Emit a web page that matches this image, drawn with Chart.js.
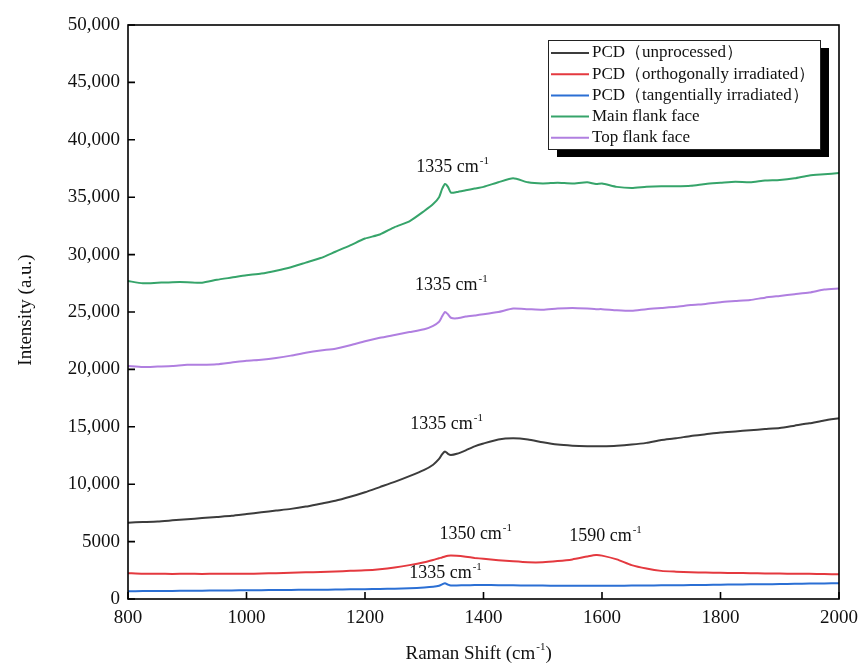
<!DOCTYPE html>
<html>
<head>
<meta charset="utf-8">
<script src="https://cdn.jsdelivr.net/npm/chart.js@4.4.0/dist/chart.umd.min.js"></script>
<style>
  html, body { margin: 0; padding: 0; background: #fff; }
  #wrap { width: 860px; height: 663px; }
</style>
</head>
<body>
<div id="wrap"><canvas id="raman"></canvas></div>
<script>
// Raman shift grid (cm-1)
const shift = [800, 825, 850, 875, 900, 925, 950, 975, 1000, 1025, 1050, 1075, 1100, 1125, 1150, 1175,
  1200, 1225, 1250, 1275, 1300, 1315, 1325, 1330, 1335, 1340, 1345, 1355, 1370, 1385, 1400, 1425,
  1450, 1475, 1500, 1525, 1550, 1575, 1590, 1600, 1625, 1650, 1675, 1700, 1725, 1750, 1775, 1800,
  1825, 1850, 1875, 1900, 1925, 1950, 1975, 2000];

const unprocessed = [6650, 6700, 6750, 6850, 6950, 7050, 7150, 7250, 7400, 7550, 7700, 7850, 8050, 8300, 8550, 8900,
  9300, 9750, 10200, 10700, 11250, 11700, 12200, 12600, 12850, 12650, 12550, 12650, 12950, 13300, 13550, 13900,
  14000, 13900, 13650, 13450, 13350, 13300, 13300, 13300, 13350, 13450, 13600, 13850, 14000, 14200, 14350, 14500,
  14600, 14700, 14800, 14900, 15100, 15300, 15550, 15750];

const orthogonal = [2250, 2200, 2200, 2180, 2200, 2180, 2200, 2200, 2200, 2220, 2250, 2280, 2320, 2360, 2400, 2450,
  2500, 2600, 2750, 2950, 3200, 3400, 3550, 3620, 3700, 3760, 3780, 3760, 3680, 3580, 3500, 3380,
  3280, 3200, 3200, 3300, 3450, 3700, 3830, 3780, 3450, 2950, 2650, 2450, 2380, 2330, 2300, 2280,
  2260, 2250, 2230, 2220, 2200, 2190, 2180, 2150];

const tangential = [680, 690, 700, 700, 720, 720, 740, 750, 760, 770, 780, 790, 800, 810, 820, 840,
  860, 880, 900, 940, 1000, 1060, 1150, 1280, 1380, 1250, 1170, 1180, 1200, 1210, 1220, 1200,
  1190, 1180, 1170, 1160, 1150, 1150, 1150, 1150, 1160, 1170, 1180, 1190, 1200, 1210, 1230, 1250,
  1260, 1280, 1290, 1300, 1320, 1340, 1360, 1370];

const mainFlank = [27700, 27500, 27550, 27600, 27600, 27550, 27800, 28000, 28200, 28350, 28600, 28900, 29300, 29700, 30250, 30800,
  31400, 31750, 32400, 32900, 33800, 34400, 35000, 35700, 36150, 35900, 35400, 35450, 35600, 35750, 35900, 36300,
  36650, 36300, 36200, 36250, 36200, 36300, 36150, 36200, 35900, 35800, 35900, 35950, 35950, 36000, 36150, 36250,
  36350, 36300, 36450, 36500, 36650, 36900, 37000, 37100];

const topFlank = [20300, 20200, 20250, 20300, 20400, 20400, 20450, 20600, 20750, 20850, 21000, 21200, 21450, 21650, 21800, 22100,
  22450, 22750, 23000, 23250, 23500, 23800, 24150, 24600, 25000, 24800, 24500, 24450, 24600, 24700, 24800, 25000,
  25300, 25250, 25200, 25300, 25350, 25300, 25250, 25250, 25150, 25100, 25250, 25350, 25450, 25600, 25700, 25850,
  25950, 26050, 26250, 26400, 26550, 26700, 26950, 27050];

const seriesNames = ['PCD（unprocessed）', 'PCD（orthogonally irradiated）', 'PCD（tangentially irradiated）',
  'Main flank face', 'Top flank face'];
const seriesColors = ['#3c3c3c', '#e4393f', '#2b6fd4', '#36a46a', '#b07fe0'];
const seriesValues = [unprocessed, orthogonal, tangential, mainFlank, topFlank];

// peak labels: [text, shift, intensity at label baseline]
const peakLabels = [
  ['1335 cm', 1347, 37200],
  ['1335 cm', 1345, 26900],
  ['1335 cm', 1337, 14800],
  ['1350 cm', 1386, 5230],
  ['1590 cm', 1605, 5050],
  ['1335 cm', 1335, 1830]
];

const xTicks = [800, 1000, 1200, 1400, 1600, 1800, 2000];
const yTicks = [0, 5000, 10000, 15000, 20000, 25000, 30000, 35000, 40000, 45000, 50000];

const SERIF = '"Liberation Serif", "Times New Roman", serif';

function drawWithSup(ctx, base, sup, cx, baseline, size) {
  ctx.font = size + 'px ' + SERIF;
  const wb = ctx.measureText(base).width;
  ctx.font = Math.round(size * 0.6) + 'px ' + SERIF;
  const ws = ctx.measureText(sup).width;
  const left = cx - (wb + ws) / 2;
  ctx.textAlign = 'left';
  ctx.textBaseline = 'alphabetic';
  ctx.font = size + 'px ' + SERIF;
  ctx.fillText(base, left, baseline);
  ctx.font = Math.round(size * 0.6) + 'px ' + SERIF;
  ctx.fillText(sup, left + wb + 1, baseline - size * 0.45);
  return left + wb + ws;
}

const decorPlugin = {
  id: 'decor',
  afterDatasetsDraw(chart) {
    const { ctx, chartArea: a, scales: { x, y } } = chart;
    ctx.save();
    // frame
    ctx.strokeStyle = '#000';
    ctx.lineWidth = 1.6;
    ctx.strokeRect(a.left, a.top, a.right - a.left, a.bottom - a.top);
    // inward ticks
    ctx.beginPath();
    xTicks.forEach(v => {
      const px = x.getPixelForValue(v);
      ctx.moveTo(px, a.bottom);
      ctx.lineTo(px, a.bottom - 7);
    });
    yTicks.forEach(v => {
      const py = y.getPixelForValue(v);
      ctx.moveTo(a.left, py);
      ctx.lineTo(a.left + 7, py);
    });
    ctx.stroke();

    // peak labels
    ctx.fillStyle = '#111';
    peakLabels.forEach(([t, sx, sy]) => {
      drawWithSup(ctx, t, '-1', x.getPixelForValue(sx), y.getPixelForValue(sy), 18);
    });

    // legend with drop shadow
    const lx = 548, ly = 40, lw = 272, lh = 109;
    ctx.fillStyle = '#000';
    ctx.fillRect(lx + 9, ly + 8, lw, lh);
    ctx.fillStyle = '#fff';
    ctx.fillRect(lx, ly, lw, lh);
    ctx.lineWidth = 1;
    ctx.strokeStyle = '#222';
    ctx.strokeRect(lx + 0.5, ly + 0.5, lw, lh);
    ctx.font = '17px ' + SERIF;
    ctx.textBaseline = 'middle';
    ctx.textAlign = 'left';
    seriesNames.forEach((name, i) => {
      const iy = ly + 13 + i * 21.2;
      ctx.strokeStyle = seriesColors[i];
      ctx.lineWidth = 2;
      ctx.beginPath();
      ctx.moveTo(lx + 3, iy);
      ctx.lineTo(lx + 41, iy);
      ctx.stroke();
      ctx.fillStyle = '#111';
      ctx.fillText(name, lx + 44, iy);
    });

    // axis titles
    ctx.fillStyle = '#111';
    drawWithSup(ctx, 'Raman Shift (cm', '-1', 475, 659, 19);
    ctx.font = '19px ' + SERIF;
    const w1 = ctx.measureText('Raman Shift (cm').width;
    ctx.font = '11px ' + SERIF;
    const w2 = ctx.measureText('-1').width;
    ctx.font = '19px ' + SERIF;
    ctx.textAlign = 'left';
    ctx.textBaseline = 'alphabetic';
    ctx.fillText(')', 475 - (w1 + w2) / 2 + w1 + w2 + 1, 659);

    ctx.translate(31, 310);
    ctx.rotate(-Math.PI / 2);
    ctx.textAlign = 'center';
    ctx.fillText('Intensity (a.u.)', 0, 0);
    ctx.restore();
  }
};

new Chart(document.getElementById('raman'), {
  type: 'line',
  data: {
    datasets: seriesNames.map((name, i) => ({
      label: name,
      data: shift.map((s, j) => ({ x: s, y: seriesValues[i][j] })),
      borderColor: seriesColors[i],
      borderWidth: 2,
      pointRadius: 0,
      tension: 0.2,
      fill: false
    }))
  },
  options: {
    responsive: true,
    maintainAspectRatio: false,
    animation: false,
    layout: { padding: { top: 25, right: 21, left: 0, bottom: 0 } },
    plugins: { legend: { display: false }, tooltip: { enabled: false } },
    scales: {
      x: {
        type: 'linear',
        min: 800,
        max: 2000,
        afterBuildTicks: s => { s.ticks = xTicks.map(v => ({ value: v })); },
        afterFit: s => { s.height = 64; },
        grid: { display: false },
        border: { display: false },
        ticks: {
          color: '#111',
          padding: 0,
          maxRotation: 0,
          font: { family: SERIF, size: 19 },
          callback: v => String(v)
        }
      },
      y: {
        min: 0,
        max: 50000,
        afterBuildTicks: s => { s.ticks = yTicks.map(v => ({ value: v })); },
        afterFit: s => { s.width = 128; },
        grid: { display: false },
        border: { display: false },
        ticks: {
          color: '#111',
          padding: 0,
          font: { family: SERIF, size: 19 },
          callback: v => v >= 10000 ? v.toLocaleString('en-US') : String(v)
        }
      }
    }
  },
  plugins: [decorPlugin]
});
</script>
</body>
</html>
